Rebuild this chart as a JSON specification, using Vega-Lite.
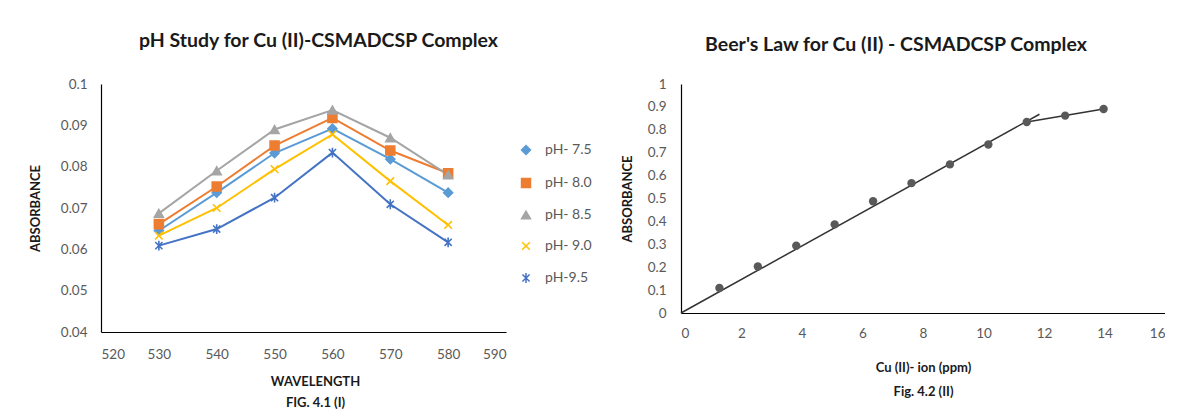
{
  "$schema": "https://vega.github.io/schema/vega-lite/v6.json",
  "padding": {"left": 29, "top": 30, "right": 0, "bottom": 0},
  "background": "white",
  "datasets": {
    "ph": [
      {"wavelength": 530, "series": "pH- 7.5", "absorbance": 0.0645},
      {"wavelength": 540, "series": "pH- 7.5", "absorbance": 0.0737},
      {"wavelength": 550, "series": "pH- 7.5", "absorbance": 0.0833},
      {"wavelength": 560, "series": "pH- 7.5", "absorbance": 0.0892},
      {"wavelength": 570, "series": "pH- 7.5", "absorbance": 0.0818},
      {"wavelength": 580, "series": "pH- 7.5", "absorbance": 0.0737},
      {"wavelength": 530, "series": "pH- 8.0", "absorbance": 0.0661},
      {"wavelength": 540, "series": "pH- 8.0", "absorbance": 0.0752},
      {"wavelength": 550, "series": "pH- 8.0", "absorbance": 0.0851},
      {"wavelength": 560, "series": "pH- 8.0", "absorbance": 0.0918},
      {"wavelength": 570, "series": "pH- 8.0", "absorbance": 0.0839},
      {"wavelength": 580, "series": "pH- 8.0", "absorbance": 0.0784},
      {"wavelength": 530, "series": "pH- 8.5", "absorbance": 0.0687},
      {"wavelength": 540, "series": "pH- 8.5", "absorbance": 0.079},
      {"wavelength": 550, "series": "pH- 8.5", "absorbance": 0.089},
      {"wavelength": 560, "series": "pH- 8.5", "absorbance": 0.0937},
      {"wavelength": 570, "series": "pH- 8.5", "absorbance": 0.087},
      {"wavelength": 580, "series": "pH- 8.5", "absorbance": 0.078},
      {"wavelength": 530, "series": "pH- 9.0", "absorbance": 0.0633},
      {"wavelength": 540, "series": "pH- 9.0", "absorbance": 0.07},
      {"wavelength": 550, "series": "pH- 9.0", "absorbance": 0.0794},
      {"wavelength": 560, "series": "pH- 9.0", "absorbance": 0.0878},
      {"wavelength": 570, "series": "pH- 9.0", "absorbance": 0.0765},
      {"wavelength": 580, "series": "pH- 9.0", "absorbance": 0.0659},
      {"wavelength": 530, "series": "pH-9.5", "absorbance": 0.0609},
      {"wavelength": 540, "series": "pH-9.5", "absorbance": 0.0649},
      {"wavelength": 550, "series": "pH-9.5", "absorbance": 0.0725},
      {"wavelength": 560, "series": "pH-9.5", "absorbance": 0.0834},
      {"wavelength": 570, "series": "pH-9.5", "absorbance": 0.0709},
      {"wavelength": 580, "series": "pH-9.5", "absorbance": 0.0617}
    ],
    "beer": [
      {"conc": 1.27, "absorbance": 0.109},
      {"conc": 2.54, "absorbance": 0.203},
      {"conc": 3.81, "absorbance": 0.294},
      {"conc": 5.08, "absorbance": 0.387},
      {"conc": 6.35, "absorbance": 0.488},
      {"conc": 7.62, "absorbance": 0.567},
      {"conc": 8.89, "absorbance": 0.649},
      {"conc": 10.16, "absorbance": 0.736},
      {"conc": 11.43, "absorbance": 0.834},
      {"conc": 12.7, "absorbance": 0.862},
      {"conc": 13.97, "absorbance": 0.891}
    ],
    "fit": [
      {"conc": 0, "absorbance": 0},
      {"conc": 11.85, "absorbance": 0.868}
    ]
  },
  "hconcat": [
    {
      "width": 405,
      "height": 248,
      "title": {"text": "pH Study for Cu (II)-CSMADCSP Complex", "anchor": "middle", "frame": "group", "dx": 15, "offset": 26},
      "data": {"name": "ph"},
      "encoding": {
        "x": {"field": "wavelength", "type": "quantitative",
          "scale": {"domain": [520, 590], "nice": false, "zero": false},
          "axis": {"values": [520, 530, 540, 550, 560, 570, 580, 590], "title": ["WAVELENGTH", "FIG. 4.1 (I)"], "titleX": 214, "titlePadding": 15, "titleLineHeight": 21, "labelPadding": 15}},
        "y": {"field": "absorbance", "type": "quantitative",
          "scale": {"domain": [0.04, 0.1], "nice": false, "zero": false},
          "axis": {"values": [0.04, 0.05, 0.06, 0.07, 0.08, 0.09, 0.1], "format": ".2~f", "title": "ABSORBANCE", "titlePadding": 18, "labelPadding": 14}}
      },
      "layer": [
        {
          "mark": {"type": "line", "strokeWidth": 2},
          "encoding": {
            "stroke": {"field": "series", "type": "nominal",
              "scale": {"domain": ["pH- 7.5", "pH- 8.0", "pH- 8.5", "pH- 9.0", "pH-9.5"], "range": ["#5B9BD5", "#ED7D31", "#A5A5A5", "#FFC000", "#4472C4"]},
              "legend": {"title": null, "orient": "none", "legendX": 418, "legendY": 59, "rowPadding": 17, "labelFontSize": 14, "labelColor": "#595959", "labelFont": "Lato", "symbolSize": 80, "symbolStrokeWidth": 1.5, "labelOffset": 12}}
          }
        },
        {
          "mark": {"type": "point", "filled": true, "size": 80, "strokeWidth": 1.6, "opacity": 1},
          "encoding": {
            "fill": {"field": "series", "type": "nominal",
              "scale": {"domain": ["pH- 7.5", "pH- 8.0", "pH- 8.5", "pH- 9.0", "pH-9.5"], "range": ["#5B9BD5", "#ED7D31", "#A5A5A5", "#FFC000", "#4472C4"]}},
            "stroke": {"field": "series", "type": "nominal"},
            "shape": {"field": "series", "type": "nominal",
              "scale": {"domain": ["pH- 7.5", "pH- 8.0", "pH- 8.5", "pH- 9.0", "pH-9.5"], "range": ["diamond", "square", "triangle-up", "M-0.85,-0.85L0.85,0.85M-0.85,0.85L0.85,-0.85", "M-0.8,-0.8L0.8,0.8M-0.8,0.8L0.8,-0.8M0,-1.1L0,1.1"]}}
          }
        }
      ]
    },
    {
      "width": 484,
      "height": 229,
      "title": {"text": "Beer's Law for Cu (II) - CSMADCSP Complex", "anchor": "middle", "frame": "group", "dx": -27, "offset": 22},
      "encoding": {
        "x": {"field": "conc", "type": "quantitative",
          "scale": {"domain": [0, 16], "nice": false},
          "axis": {"values": [0, 2, 4, 6, 8, 10, 12, 14, 16], "title": ["Cu (II)- ion (ppm)", "Fig. 4.2 (II)"], "titlePadding": 22, "titleLineHeight": 24, "labelPadding": 13}},
        "y": {"field": "absorbance", "type": "quantitative",
          "scale": {"domain": [0, 1], "nice": false},
          "axis": {"values": [0, 0.1, 0.2, 0.3, 0.4, 0.5, 0.6, 0.7, 0.8, 0.9, 1], "format": ".1~f", "title": "ABSORBANCE", "titlePadding": 13, "labelPadding": 15}}
      },
      "layer": [
        {
          "data": {"name": "fit"},
          "mark": {"type": "line", "color": "#333333", "strokeWidth": 1.5}
        },
        {
          "data": {"name": "beer"},
          "transform": [{"filter": "datum.conc >= 11"}],
          "mark": {"type": "line", "color": "#333333", "strokeWidth": 1.5}
        },
        {
          "data": {"name": "beer"},
          "mark": {"type": "point", "shape": "circle", "filled": true, "size": 70, "color": "#595959", "opacity": 1}
        }
      ]
    }
  ],
  "spacing": 115,
  "config": {
    "font": "Lato",
    "view": {"stroke": null},
    "title": {"font": "Lato", "fontSize": 19.5, "fontWeight": "bold", "color": "#1a1a1a"},
    "axis": {
      "grid": false,
      "ticks": false,
      "domainColor": "#000000",
      "domainWidth": 1.2,
      "labelFont": "Lato",
      "labelFontSize": 13.5,
      "labelColor": "#595959",
      "titleFont": "Lato",
      "titleFontSize": 13,
      "titleFontWeight": "bold",
      "titleColor": "#1a1a1a"
    }
  }
}
